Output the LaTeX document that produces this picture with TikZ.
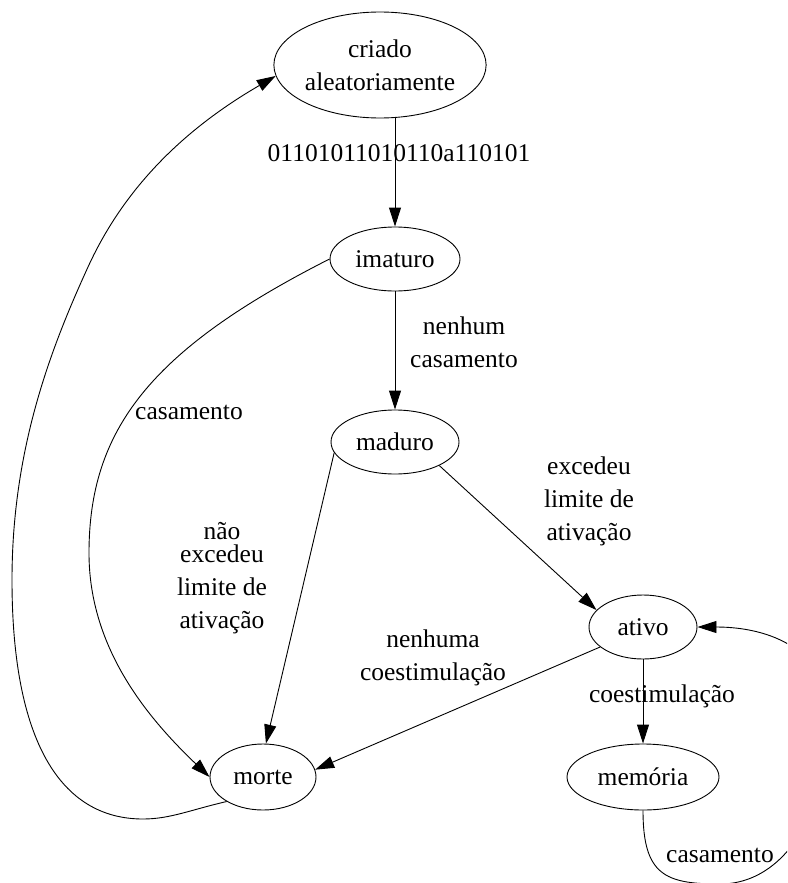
\documentclass[tikz,border=0pt]{standalone}
\usepackage{fontspec}
\setmainfont{Liberation Serif}
\usetikzlibrary{shapes.geometric,arrows.meta}

\begin{document}
\begin{tikzpicture}[x=1pt,y=-1pt,
            line width=0.9pt,
            every node/.style={font=\fontsize{25.5}{33}\selectfont},
            state/.style={draw,ellipse,inner sep=0pt,align=center},
            lbl/.style={align=center,inner sep=0pt},
            edge/.style={-{Triangle[length=19pt,width=12pt]}},
            ]
            \useasboundingbox (0,0) rectangle (787,883);
            \clip (0,0) rectangle (787,883);

            % states
            \node[state,minimum width=186pt,minimum height=106pt] (criado) at (380,65) {criado\\aleatoriamente};
            \node[state,minimum width=130pt,minimum height=64pt] (imaturo) at (395,259) {imaturo};
            \node[state,minimum width=128pt,minimum height=64pt] (maduro) at (395,442) {maduro};
            \node[state,minimum width=108pt,minimum height=64pt] (ativo) at (643,627) {ativo};
            \node[state,minimum width=152pt,minimum height=66pt] (memoria) at (643,777) {memória};
            \node[state,minimum width=106pt,minimum height=66pt] (morte) at (263,777) {morte};

            % transitions
            \draw[edge] (criado.south -| imaturo.north) -- (imaturo.north);
            \draw[edge] (imaturo.south) -- (maduro.north);
            \draw[edge] (imaturo.west) .. controls (150,350) and (89,430) .. (89,553)
                .. controls (89,650) and (150,720) .. (morte.west);
            \draw[edge] (maduro.190) -- (morte.85);
            \draw[edge] (maduro.-28) -- (ativo.160);
            \draw[edge] (ativo.205) -- (morte.8);
            \draw[edge] (ativo.south) -- (memoria.north);
            \draw[edge] (memoria.south) .. controls (643,875) and (665,884) .. (720,884)
                .. controls (790,884) and (830,800) .. (830,720)
                .. controls (830,650) and (770,627) .. (ativo.east);
            \draw[edge] (morte.214) .. controls (190,810) and (170,819) .. (143,819)
                .. controls (60,819) and (12,740) .. (12,580)
                .. controls (12,450) and (50,350) .. (88,267)
                .. controls (130,175) and (200,120) .. (criado.186);

            % labels
            \node[lbl] (lblbits) at (399,153.5) {01101011010110a110101};
            \node[lbl] (lblnenhum) at (464,342.5) {nenhum\\casamento};
            \node[lbl] (lblcasimat) at (189,412.5) {casamento};
            \node[lbl] (lblnao) at (222,578) {não\\[-10pt]excedeu\\limite de\\ativação};
            \node[lbl] (lblexc) at (589,501) {excedeu\\limite de\\ativação};
            \node[lbl] (lblnenhuma) at (433,658) {nenhuma\\coestimulação};
            \node[lbl] (lblcoest) at (662,696) {coestimulação};
            \node[lbl] (lblcasmem) at (720,855.5) {casamento};
        \end{tikzpicture}
\end{document}
